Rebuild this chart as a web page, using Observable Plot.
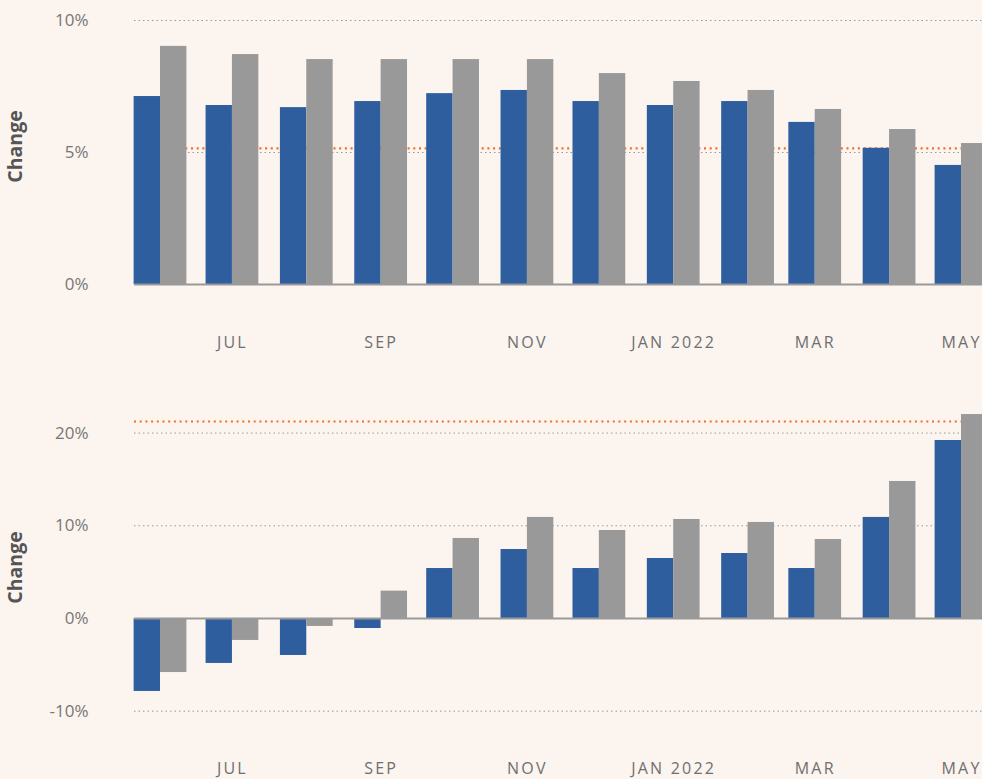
<!DOCTYPE html>
<html>
<head>
<meta charset="utf-8">
<script src="https://cdn.jsdelivr.net/npm/d3@7"></script>
<script src="https://cdn.jsdelivr.net/npm/@observablehq/plot@0.6"></script>
<style>
  html, body { margin: 0; padding: 0; background: #fbf4ef; overflow: hidden; }
  #chart { width: 982px; height: 779px; }
  svg { display: block; }
</style>
</head>
<body>
<div id="chart"></div>
<script>
// ---- data ----
const months = ["2021-06-01","2021-07-01","2021-08-01","2021-09-01","2021-10-01","2021-11-01",
                "2021-12-01","2022-01-01","2022-02-01","2022-03-01","2022-04-01","2022-05-01"];
// top panel
const topBlue = [7.12, 6.78, 6.70, 6.93, 7.23, 7.35, 6.93, 6.78, 6.93, 6.14, 5.16, 4.51];
const topGray = [9.02, 8.71, 8.52, 8.52, 8.52, 8.52, 7.99, 7.69, 7.35, 6.63, 5.87, 5.34];
const topRef = 5.16;
const topTicks = [0, 5, 10];
// bottom panel
const bottomBlue = [-7.87, -4.85, -3.99, -1.08, 5.39, 7.44, 5.39, 6.47, 7.01, 5.39, 10.9, 19.2];
const bottomGray = [-5.83, -2.37, -0.86, 2.95, 8.63, 10.9, 9.49, 10.68, 10.36, 8.52, 14.78, 22.0];
const bottomRef = 21.25;
const bottomTicks = [-10, 0, 10, 20];
// x tick labels
const xTickDates = ["2021-07-01","2021-09-01","2021-11-01","2022-01-01","2022-03-01","2022-05-01"];
const xTickLabels = ["JUL","SEP","NOV","JAN 2022","MAR","MAY"];
const yLabel = "Change";

// ---- chart ----
const BLUE = "#2f5e9f", GRAY = "#999999", ORANGE = "#f26e22";
const FONT = "'Open Sans', 'Noto Sans', sans-serif";
const xDomain = [new Date("2021-05-21T03:48:00Z"), new Date("2022-05-09T18:10:00Z")];
const tickDates = xTickDates.map(d => new Date(d));
const tickKey = new Map(tickDates.map((d, i) => [+d, xTickLabels[i]]));

function panel({blue, gray, ref, ticks, domain, height, marginTop, marginBottom, tickPadding, labelDy}) {
  const rows = months.map((m, i) => ({date: new Date(m), blue: blue[i], gray: gray[i]}));
  const gridTicks = ticks.filter(t => t !== 0);
  const svg = Plot.plot({
    width: 982,
    height,
    marginLeft: 134,
    marginRight: 0,
    marginTop,
    marginBottom,
    style: {background: "transparent", overflow: "hidden", fontFamily: FONT},
    x: {type: "utc", domain: xDomain, axis: null},
    y: {domain, axis: null},
    marks: [
      Plot.ruleY(gridTicks, {stroke: "#999", strokeWidth: 1, strokeDasharray: "1.5,3"}),
      Plot.ruleY([ref], {stroke: ORANGE, strokeWidth: 2.2, strokeDasharray: "2,3.7"}),
      Plot.rectY(rows, {x1: d => d3.utcDay.offset(d.date, -11), x2: "date", y1: 0, y2: "blue", fill: BLUE}),
      Plot.rectY(rows, {x1: "date", x2: d => d3.utcDay.offset(d.date, 11), y1: 0, y2: "gray", fill: GRAY}),
      Plot.ruleY([0], {stroke: "#999", strokeWidth: 2}),
      Plot.axisY({ticks, tickFormat: d => d + "%", tickSize: 0, tickPadding: 46, fontSize: 17, fill: "#777", label: null}),
      Plot.axisX({ticks: tickDates, tickFormat: d => tickKey.get(+d), tickSize: 0, tickPadding, fontSize: 16, fill: "#6f6f6f", label: null}),
      Plot.text([yLabel], {frameAnchor: "left", rotate: -90, dx: -119, dy: labelDy, fontSize: 19.5, fontWeight: "bold", fill: "#555", textAnchor: "middle", lineAnchor: "middle"})
    ]
  });
  d3.select(svg).selectAll("[aria-label='x-axis tick label'] text").attr("letter-spacing", "2.2px");
  return svg;
}

const chart = document.getElementById("chart");
chart.appendChild(panel({blue: topBlue, gray: topGray, ref: topRef, ticks: topTicks, domain: [0, 10],
  height: 380, marginTop: 20, marginBottom: 96, tickPadding: 52, labelDy: -6}));
chart.appendChild(panel({blue: bottomBlue, gray: bottomGray, ref: bottomRef, ticks: bottomTicks, domain: [-13, 24],
  height: 399, marginTop: 15.5, marginBottom: 40.5, tickPadding: 24, labelDy: 0}));
</script>
</body>
</html>
